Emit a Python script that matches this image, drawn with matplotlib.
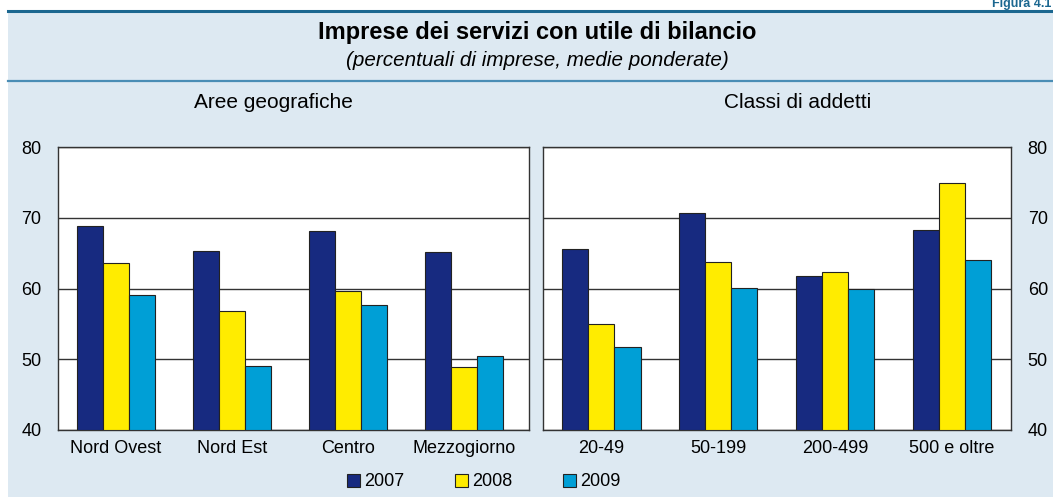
import matplotlib
matplotlib.use("Agg")
import matplotlib.pyplot as plt
from matplotlib.patches import Rectangle
from matplotlib.lines import Line2D
import numpy as np

plt.rcParams['font.family'] = ['Liberation Sans', 'DejaVu Sans']

# Data
years = ["2007", "2008", "2009"]
aree = ["Nord Ovest", "Nord Est", "Centro", "Mezzogiorno"]
aree_2007 = [68.9, 65.3, 68.1, 65.1]
aree_2008 = [63.6, 56.8, 59.7, 48.9]
aree_2009 = [59.1, 49.0, 57.6, 50.4]

classi = ["20-49", "50-199", "200-499", "500 e oltre"]
classi_2007 = [65.6, 70.7, 61.8, 68.3]
classi_2008 = [55.0, 63.8, 62.3, 74.9]
classi_2009 = [51.8, 60.1, 60.0, 64.0]

yticks = [40, 50, 60, 70, 80]
colors = ["#172A80", "#FFEC00", "#009FD6"]
bg = "#DDE9F2"

W, H = 1053, 497
fig = plt.figure(figsize=(W / 100, H / 100), dpi=100)
fig.patch.set_facecolor("white")

def fx(px):
    return px / W

def fy(py):
    return 1 - py / H

# background panel
fig.patches.append(Rectangle((fx(8), 0), 1 - fx(8), fy(11), transform=fig.transFigure,
                             facecolor=bg, edgecolor="none", zorder=-10))
fig.add_artist(Line2D([fx(8), 1], [fy(11), fy(11)], color="#1B6790", lw=2.2,
                      transform=fig.transFigure, zorder=-5))
fig.add_artist(Line2D([fx(8), 1], [fy(81), fy(81)], color="#4A8DB5", lw=1.6,
                      transform=fig.transFigure, zorder=-5))

fig.text(fx(1051), fy(10), "Figura 4.1", ha="right", va="bottom", fontsize=9,
         fontweight="bold", color="#1B6790")
fig.text(fx(537), fy(32), "Imprese dei servizi con utile di bilancio", ha="center", va="center",
         fontsize=17, fontweight="bold")
fig.text(fx(537), fy(60), "(percentuali di imprese, medie ponderate)", ha="center", va="center",
         fontsize=14.9, style="italic")
fig.text(fx(273), fy(102), "Aree geografiche", ha="center", va="center", fontsize=15)
fig.text(fx(798), fy(102), "Classi di addetti", ha="center", va="center", fontsize=15)

ax1 = fig.add_axes([fx(58), fy(430), fx(529 - 58), (430 - 147) / H])
ax2 = fig.add_axes([fx(543), fy(430), fx(1011 - 543), (430 - 147) / H])

bw = 0.224
handles = []
for ax, cats, series, xmax in [
    (ax1, aree, [aree_2007, aree_2008, aree_2009], 3.56),
    (ax2, classi, [classi_2007, classi_2008, classi_2009], 3.507),
]:
    x = np.arange(len(cats))
    hs = []
    for i, (vals, c) in enumerate(zip(series, colors)):
        b = ax.bar(x + (i - 1) * bw, np.array(vals) - 40, bottom=40, width=bw, color=c,
                   edgecolor="#222222", linewidth=0.8, zorder=3, label=years[i])
        hs.append(b)
    handles = hs
    ax.set_ylim(40, 80)
    ax.set_xlim(-0.5, xmax)
    ax.set_xticks(x)
    ax.set_xticklabels(cats, fontsize=13)
    ax.set_yticks(yticks)
    ax.tick_params(axis="x", length=0, pad=7)
    ax.tick_params(axis="y", length=0, labelsize=13, pad=12)
    ax.yaxis.grid(True, color="#333333", linewidth=1.0, zorder=1)
    ax.set_axisbelow(True)
    for s in ax.spines.values():
        s.set_color("#333333")
        s.set_linewidth(1.0)
    ax.set_facecolor("white")

ax2.yaxis.tick_right()
ax2.tick_params(axis="y", pad=12)

leg = fig.legend(handles, years, loc="center", bbox_to_anchor=(fx(484), fy(482)), ncol=3,
                 frameon=False, fontsize=13, handlelength=0.7, handleheight=0.7,
                 handletextpad=0.25, columnspacing=2.8)

fig.savefig("out.png", dpi=100, facecolor=fig.get_facecolor())
